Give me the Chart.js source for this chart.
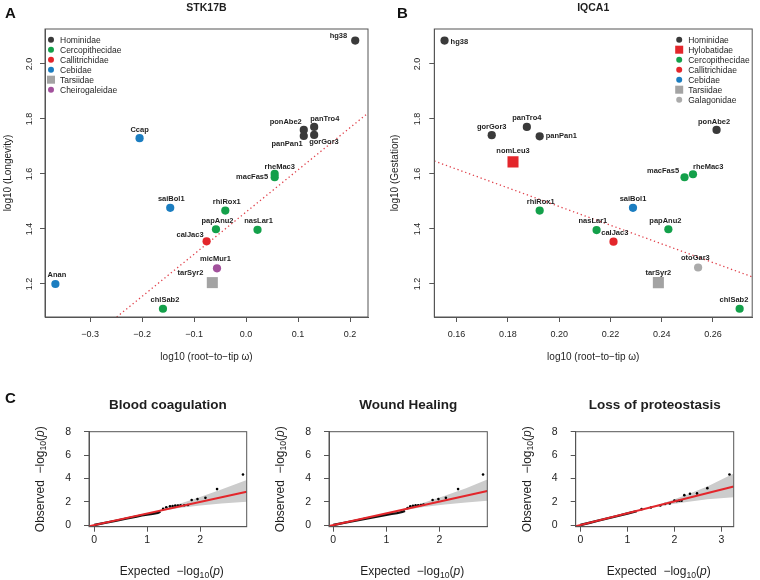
<!DOCTYPE html>
<html>
<head>
<meta charset="utf-8">
<script src="https://cdn.jsdelivr.net/npm/chart.js@4.4.0/dist/chart.umd.min.js"></script>
<style>
  html, body { margin: 0; padding: 0; background: #fff; }
  #fig { position: relative; width: 760px; height: 580px; overflow: hidden; }
  #fig canvas { position: absolute; }
  .tag { position: absolute; font: bold 15px "Liberation Sans", Arial, sans-serif; color: #111; line-height: 15px; }
</style>
</head>
<body>
<div id="fig">
  <canvas id="cA" width="380" height="380" style="left:0;top:0"></canvas>
  <canvas id="cB" width="380" height="380" style="left:380px;top:0"></canvas>
  <canvas id="cC1" width="255" height="200" style="left:0;top:380px"></canvas>
  <canvas id="cC2" width="255" height="200" style="left:250px;top:380px"></canvas>
  <canvas id="cC3" width="255" height="200" style="left:505px;top:380px"></canvas>
  <div class="tag" style="left:5px;top:5px">A</div>
  <div class="tag" style="left:397px;top:5px">B</div>
  <div class="tag" style="left:5px;top:390px">C</div>
</div>
<script>
(function() {
  'use strict';

  // ---- panel A: STK17B ----
  var familiesA = ['Hominidae', 'Cercopithecidae', 'Callitrichidae', 'Cebidae', 'Tarsiidae', 'Cheirogaleidae'];
  var speciesA = ['hg38', 'ponAbe2', 'panPan1', 'panTro4', 'gorGor3', 'Ccap', 'rheMac3', 'macFas5', 'saiBol1',
                  'rhiRox1', 'papAnu2', 'nasLar1', 'calJac3', 'micMur1', 'tarSyr2', 'Anan', 'chlSab2'];
  var familyOfA = ['Hominidae', 'Hominidae', 'Hominidae', 'Hominidae', 'Hominidae', 'Cebidae', 'Cercopithecidae',
                   'Cercopithecidae', 'Cebidae', 'Cercopithecidae', 'Cercopithecidae', 'Cercopithecidae',
                   'Callitrichidae', 'Cheirogaleidae', 'Tarsiidae', 'Cebidae', 'Cercopithecidae'];
  var omegaA = [0.210, 0.111, 0.111, 0.131, 0.131, -0.205, 0.055, 0.055, -0.146, -0.040, -0.058, 0.022,
                -0.076, -0.056, -0.065, -0.367, -0.160];
  var longevityA = [2.085, 1.760, 1.738, 1.771, 1.742, 1.730, 1.600, 1.588, 1.477, 1.467, 1.399, 1.397,
                    1.355, 1.257, 1.205, 1.200, 1.110];
  var trendAx = [-0.249, 0.235];
  var trendAy = [1.080, 1.822];
  var xTicksA = [-0.3, -0.2, -0.1, 0.0, 0.1, 0.2];
  var xTickLabelsA = ['\u22120.3', '\u22120.2', '\u22120.1', '0.0', '0.1', '0.2'];

  // ---- panel B: IQCA1 ----
  var familiesB = ['Hominidae', 'Hylobatidae', 'Cercopithecidae', 'Callitrichidae', 'Cebidae', 'Tarsiidae', 'Galagonidae'];
  var speciesB = ['hg38', 'gorGor3', 'panTro4', 'panPan1', 'ponAbe2', 'nomLeu3', 'macFas5', 'rheMac3', 'rhiRox1',
                  'saiBol1', 'nasLar1', 'papAnu2', 'calJac3', 'otoGar3', 'tarSyr2', 'chlSab2'];
  var familyOfB = ['Hominidae', 'Hominidae', 'Hominidae', 'Hominidae', 'Hominidae', 'Hylobatidae', 'Cercopithecidae',
                   'Cercopithecidae', 'Cercopithecidae', 'Cebidae', 'Cercopithecidae', 'Cercopithecidae',
                   'Callitrichidae', 'Galagonidae', 'Tarsiidae', 'Cercopithecidae'];
  var omegaB = [0.1553, 0.1737, 0.1874, 0.1924, 0.2614, 0.1820, 0.2489, 0.2522, 0.1924, 0.2288, 0.2146, 0.2426,
                0.2212, 0.2542, 0.2387, 0.2704];
  var gestationB = [2.085, 1.741, 1.771, 1.737, 1.760, 1.644, 1.588, 1.599, 1.467, 1.477, 1.396, 1.399,
                    1.354, 1.260, 1.205, 1.110];
  var trendBx = [0.1513, 0.2753];
  var trendBy = [1.647, 1.226];
  var xTicksB = [0.16, 0.18, 0.20, 0.22, 0.24, 0.26];
  var xTickLabelsB = ['0.16', '0.18', '0.20', '0.22', '0.24', '0.26'];

  var yTicksAB = [1.2, 1.4, 1.6, 1.8, 2.0];
  var yTickLabelsAB = ['1.2', '1.4', '1.6', '1.8', '2.0'];

  // ---- panel C: QQ plots (expected vs observed -log10 p) ----
  var qqTitles = ['Blood coagulation', 'Wound Healing', 'Loss of proteostasis'];
  var denseX1 = [0.0, 0.2, 0.4, 0.6, 0.8, 0.9, 1.0, 1.1, 1.2, 1.25];
  var denseY1 = [0.0, 0.18, 0.36, 0.55, 0.73, 0.82, 0.90, 0.96, 1.05, 1.15];
  var tailX1 = [1.30, 1.36, 1.43, 1.48, 1.53, 1.58, 1.63, 1.70, 1.77, 1.84, 1.95, 2.10, 2.32, 2.81];
  var tailY1 = [1.38, 1.52, 1.60, 1.63, 1.66, 1.67, 1.68, 1.70, 1.72, 2.14, 2.22, 2.33, 3.08, 4.33];
  var fitX1 = [-0.10, 2.88];
  var fitY1 = [-0.10, 2.85];
  var bandX1 = [1.20, 1.60, 2.00, 2.40, 2.88];
  var bandHi1 = [1.25, 1.80, 2.40, 3.05, 3.85];
  var bandLo1 = [1.15, 1.45, 1.67, 1.84, 2.00];

  var denseX2 = [0.0, 0.2, 0.4, 0.6, 0.8, 0.9, 1.0, 1.1, 1.2, 1.3, 1.35];
  var denseY2 = [0.0, 0.18, 0.36, 0.54, 0.70, 0.79, 0.88, 0.95, 1.02, 1.12, 1.22];
  var tailX2 = [1.40, 1.45, 1.50, 1.55, 1.60, 1.65, 1.70, 1.87, 1.98, 2.12, 2.35, 2.82];
  var tailY2 = [1.45, 1.60, 1.65, 1.68, 1.70, 1.72, 1.75, 2.14, 2.22, 2.33, 3.08, 4.33];
  var fitX2 = [-0.08, 2.90];
  var fitY2 = [-0.09, 2.92];
  var bandX2 = [1.30, 1.70, 2.10, 2.50, 2.90];
  var bandHi2 = [1.38, 1.90, 2.50, 3.15, 3.90];
  var bandLo2 = [1.25, 1.55, 1.75, 1.93, 2.08];

  var denseX3 = [0.0, 0.2, 0.4, 0.6, 0.8, 1.0, 1.2];
  var denseY3 = [0.0, 0.19, 0.39, 0.59, 0.79, 0.99, 1.19];
  var tailX3 = [1.30, 1.50, 1.70, 1.80, 1.90, 2.00, 2.05, 2.10, 2.15, 2.21, 2.33, 2.48, 2.70, 3.17];
  var tailY3 = [1.36, 1.50, 1.68, 1.80, 1.85, 2.10, 2.05, 2.08, 2.08, 2.56, 2.68, 2.71, 3.16, 4.33];
  var fitX3 = [-0.10, 3.26];
  var fitY3 = [-0.10, 3.30];
  var bandX3 = [1.50, 1.90, 2.30, 2.70, 3.26];
  var bandHi3 = [1.55, 2.05, 2.65, 3.30, 4.42];
  var bandLo3 = [1.45, 1.75, 2.00, 2.20, 2.37];

  var qqYTicks = [0, 2, 4, 6, 8];
  var qqXTicks12 = [0, 1, 2];
  var qqXTicks3 = [0, 1, 2, 3];

  // ---- styles ----
  var FONT = '"Liberation Sans", Arial, Helvetica, sans-serif';
  var INK = '#1e1e1e';
  var AXIS = '#555';

  var familyStyle = {
    Hominidae:       { color: '#3a3a3a', shape: 'circle' },
    Hylobatidae:     { color: '#e3262b', shape: 'rect' },
    Cercopithecidae: { color: '#13a04a', shape: 'circle' },
    Callitrichidae:  { color: '#e3262b', shape: 'circle' },
    Cebidae:         { color: '#1b7dc0', shape: 'circle' },
    Tarsiidae:       { color: '#a3a3a3', shape: 'rect' },
    Cheirogaleidae:  { color: '#a2519c', shape: 'circle' },
    Galagonidae:     { color: '#ababab', shape: 'circle' }
  };

  // label placement: [textAlign, dx, dy] relative to the point
  var labelPlaceA = {
    hg38: ['right', -8, -5], ponAbe2: ['right', -2, -8], panTro4: ['left', -4, -8], panPan1: ['right', -1, 8],
    gorGor3: ['left', -5, 7], Ccap: ['center', 0, -8.5], rheMac3: ['center', 5, -7.5], macFas5: ['right', -6.5, 0],
    saiBol1: ['center', 1, -9], rhiRox1: ['center', 1.5, -8.5], papAnu2: ['center', 1.5, -8.5],
    nasLar1: ['center', 1, -8.5], calJac3: ['right', -3, -6.5], micMur1: ['center', -1.5, -9],
    tarSyr2: ['right', -9, -9.5], Anan: ['center', 1.5, -8.7], chlSab2: ['center', 2, -8.7]
  };
  var labelPlaceB = {
    hg38: ['left', 6, 1], gorGor3: ['center', 0, -8.6], panTro4: ['center', 0, -9], panPan1: ['left', 6, 0],
    ponAbe2: ['center', -2.5, -8.3], nomLeu3: ['center', 0, -10.5], macFas5: ['right', -5.4, -6.6],
    rheMac3: ['left', 0, -7.6], rhiRox1: ['center', 1, -8.4], saiBol1: ['center', 0, -9],
    nasLar1: ['center', -3.7, -9], papAnu2: ['center', -3, -8.3], calJac3: ['center', 1.3, -9],
    otoGar3: ['center', -2.7, -9.4], tarSyr2: ['center', 0, -10], chlSab2: ['center', -5.7, -8.7]
  };

  function richText(ctx, segs, x, y, size, rot) {
    function fontOf(s) {
      if (s[1] === 'sub') return (size * 0.72) + 'px ' + FONT;
      if (s[1] === 'it') return 'italic ' + size + 'px ' + FONT;
      return size + 'px ' + FONT;
    }
    var widths = segs.map(function(s) { ctx.font = fontOf(s); return ctx.measureText(s[0]).width; });
    var total = widths.reduce(function(a, b) { return a + b; }, 0);
    ctx.save();
    ctx.translate(x, y);
    if (rot) ctx.rotate(rot);
    ctx.textAlign = 'left';
    ctx.textBaseline = 'middle';
    var cx = -total / 2;
    segs.forEach(function(s, i) {
      ctx.font = fontOf(s);
      ctx.fillText(s[0], cx, s[1] === 'sub' ? size * 0.3 : 0);
      cx += widths[i];
    });
    ctx.restore();
  }

  var decor = {
    id: 'decor',
    afterDraw: function(chart, args, o) {
      var ctx = chart.ctx, a = chart.chartArea;
      ctx.save();
      ctx.strokeStyle = AXIS;
      ctx.lineWidth = 1;
      ctx.strokeRect(a.left, a.top, a.right - a.left, a.bottom - a.top);
      ctx.fillStyle = INK;
      var cx = (a.left + a.right) / 2;

      if (o.title) {
        ctx.font = 'bold ' + o.title.size + 'px ' + FONT;
        ctx.textAlign = 'center';
        ctx.textBaseline = 'middle';
        ctx.fillText(o.title.text, cx, a.top + o.title.dy);
      }
      if (o.xTitle) richText(ctx, o.xTitle.segs, cx + (o.xTitle.dx || 0), a.bottom + o.xTitle.dy, o.xTitle.size, 0);
      if (o.yTitle) richText(ctx, o.yTitle.segs, a.left + o.yTitle.dx, (a.top + a.bottom) / 2, o.yTitle.size, -Math.PI / 2);

      if (o.yTickLabels) {
        var ys = chart.scales.y;
        ctx.font = o.tickSize + 'px ' + FONT;
        ctx.textAlign = 'center';
        ctx.textBaseline = 'middle';
        ys.ticks.forEach(function(t, i) {
          ctx.save();
          ctx.translate(a.left + o.yTickDx, ys.getPixelForValue(t.value));
          ctx.rotate(-Math.PI / 2);
          ctx.fillText(o.yTickLabels[i], 0, 0);
          ctx.restore();
        });
      }

      if (o.legend) {
        var lg = o.legend;
        var mx = lg.anchor === 'left' ? a.left + lg.dx : a.right + lg.dx;
        var row = 0;
        chart.data.datasets.forEach(function(ds) {
          if (!ds.family) return;
          var st = familyStyle[ds.family];
          var yy = a.top + lg.dy + row * lg.step;
          ctx.fillStyle = st.color;
          if (st.shape === 'rect') {
            ctx.fillRect(mx - 4, yy - 4, 8, 8);
          } else {
            ctx.beginPath();
            ctx.arc(mx, yy, 3, 0, Math.PI * 2);
            ctx.fill();
          }
          ctx.fillStyle = INK;
          ctx.font = lg.size + 'px ' + FONT;
          ctx.textAlign = 'left';
          ctx.textBaseline = 'middle';
          ctx.fillText(ds.family, mx + 9, yy + 0.5);
          row++;
        });
      }

      if (o.place) {
        ctx.font = 'bold 7.5px ' + FONT;
        ctx.textBaseline = 'middle';
        ctx.fillStyle = INK;
        chart.data.datasets.forEach(function(ds, di) {
          if (!ds.names) return;
          var meta = chart.getDatasetMeta(di);
          meta.data.forEach(function(pt, j) {
            var p = o.place[ds.names[j]];
            ctx.textAlign = p[0];
            ctx.fillText(ds.names[j], pt.x + p[1], pt.y + p[2]);
          });
        });
      }
      ctx.restore();
    }
  };

  function pts(xs, ys) {
    return xs.map(function(x, i) { return { x: x, y: ys[i] }; });
  }

  function familyDatasets(families, species, fam, xs, ys) {
    return families.map(function(f) {
      var idx = [];
      species.forEach(function(s, i) { if (fam[i] === f) idx.push(i); });
      var st = familyStyle[f];
      return {
        family: f,
        names: idx.map(function(i) { return species[i]; }),
        data: idx.map(function(i) { return { x: xs[i], y: ys[i] }; }),
        showLine: false,
        pointStyle: st.shape,
        pointRadius: st.shape === 'rect' ? 7.8 : 4.1,
        backgroundColor: st.color,
        borderColor: st.color,
        borderWidth: 0,
        order: 1
      };
    });
  }

  function axis(min, max, ticks, labels, size, pad, fit, extra) {
    var ax = {
      type: 'linear', min: min, max: max,
      afterBuildTicks: function(s) { s.ticks = ticks.map(function(v) { return { value: v }; }); },
      afterFit: fit,
      ticks: {
        display: !!labels,
        autoSkip: false, maxRotation: 0, minRotation: 0, padding: pad,
        color: INK, font: { family: FONT, size: size },
        callback: function(v, i) { return labels ? labels[i] : ''; }
      },
      grid: { drawOnChartArea: false, drawTicks: true, tickLength: 5, color: AXIS },
      border: { color: AXIS }
    };
    return Object.assign(ax, extra || {});
  }

  function scatterPanel(id, o) {
    var W = 380, H = 380;
    var datasets = familyDatasets(o.families, o.species, o.fam, o.xs, o.ys);
    datasets.push({
      data: pts(o.trendX, o.trendY), showLine: true, pointRadius: 0,
      borderColor: '#e0404a', borderWidth: 1.3, borderDash: [1.3, 2.8], order: 5
    });
    new Chart(document.getElementById(id).getContext('2d'), {
      type: 'scatter',
      data: { datasets: datasets },
      options: {
        responsive: false, animation: false, devicePixelRatio: 1, events: [],
        layout: { padding: { left: 0, top: o.area[1], right: W - o.area[2], bottom: 0 } },
        scales: {
          x: axis(o.xMin, o.xMax, o.xTicks, o.xLabels, 9, 7, function(s) { s.height = H - o.area[3]; }),
          y: axis(1.08, 2.127, yTicksAB, null, 9, 0, function(s) { s.width = o.area[0]; })
        },
        plugins: {
          legend: { display: false }, tooltip: { enabled: false },
          decor: {
            title: { text: o.title, size: 10.5, dy: -21 },
            xTitle: { segs: [['log10 (root\u2212to\u2212tip \u03c9)', '']], dy: 40, size: 10 },
            yTitle: { segs: [[o.yTitle, '']], dx: o.yTitleDx, size: 10 },
            yTickLabels: yTickLabelsAB, yTickDx: o.yTickDx, tickSize: 9,
            legend: o.legend,
            place: o.place
          }
        }
      },
      plugins: [decor]
    });
  }

  function qqPanel(id, o) {
    var W = 255, H = 200;
    var datasets = [
      { data: pts(o.fitX, o.fitY), showLine: true, pointRadius: 0, borderColor: '#e3262b', borderWidth: 2, order: 0 },
      { data: pts(o.tailX, o.tailY), showLine: false, pointRadius: 1.3, pointBackgroundColor: '#000', pointBorderWidth: 0, order: 1 },
      { data: pts(o.denseX, o.denseY), showLine: true, pointRadius: 0, borderColor: '#111', borderWidth: 2.4, order: 2 },
      { data: pts(o.bandX, o.bandHi), showLine: true, pointRadius: 0, borderWidth: 0, borderColor: 'rgba(0,0,0,0)',
        fill: '+1', backgroundColor: '#cccccc', order: 3 },
      { data: pts(o.bandX, o.bandLo), showLine: true, pointRadius: 0, borderWidth: 0, borderColor: 'rgba(0,0,0,0)', order: 4 }
    ];
    new Chart(document.getElementById(id).getContext('2d'), {
      type: 'line',
      data: { datasets: datasets },
      options: {
        responsive: false, animation: false, devicePixelRatio: 1, events: [],
        layout: { padding: { left: 0, top: o.area[1], right: W - o.area[2], bottom: 0 } },
        scales: {
          x: axis(o.xMin, o.xMax, o.xTicks, o.xTicks.map(String), 10.5, 2, function(s) { s.height = H - o.area[3]; }),
          y: axis(-0.145, 8.0, qqYTicks, qqYTicks.map(String), 10.5, 13, function(s) { s.width = o.area[0]; })
        },
        plugins: {
          legend: { display: false }, tooltip: { enabled: false },
          decor: {
            title: { text: o.title, size: 13.5, dy: -26.5 },
            xTitle: { segs: [['Expected  \u2212log', ''], ['10', 'sub'], ['(', ''], ['p', 'it'], [')', '']], dy: 45, dx: 4, size: 12 },
            yTitle: { segs: [['Observed  \u2212log', ''], ['10', 'sub'], ['(', ''], ['p', 'it'], [')', '']], dx: -48.5, size: 12 }
          }
        }
      },
      plugins: [decor]
    });
  }

  scatterPanel('cA', {
    families: familiesA, species: speciesA, fam: familyOfA, xs: omegaA, ys: longevityA,
    trendX: trendAx, trendY: trendAy, xMin: -0.387, xMax: 0.2346, xTicks: xTicksA, xLabels: xTickLabelsA,
    area: [45, 29, 368, 317], title: 'STK17B', yTitle: 'log10 (Longevity)', yTitleDx: -37, yTickDx: -15,
    legend: { anchor: 'left', dx: 6, dy: 10.7, step: 10, size: 8.5 }, place: labelPlaceA
  });
  scatterPanel('cB', {
    families: familiesB, species: speciesB, fam: familyOfB, xs: omegaB, ys: gestationB,
    trendX: trendBx, trendY: trendBy, xMin: 0.1513, xMax: 0.2753, xTicks: xTicksB, xLabels: xTickLabelsB,
    area: [54.3, 29, 377, 317], title: 'IQCA1', yTitle: 'log10 (Gestation)', yTitleDx: -39, yTickDx: -17,
    legend: { anchor: 'right', dx: -73, dy: 10.7, step: 10, size: 8.5 }, place: labelPlaceB
  });

  qqPanel('cC1', {
    title: qqTitles[0], area: [89, 51.7, 246.7, 146.7], xMin: -0.1, xMax: 2.88, xTicks: qqXTicks12,
    denseX: denseX1, denseY: denseY1, tailX: tailX1, tailY: tailY1, fitX: fitX1, fitY: fitY1,
    bandX: bandX1, bandHi: bandHi1, bandLo: bandLo1
  });
  qqPanel('cC2', {
    title: qqTitles[1], area: [79, 51.7, 237.3, 146.7], xMin: -0.08, xMax: 2.9, xTicks: qqXTicks12,
    denseX: denseX2, denseY: denseY2, tailX: tailX2, tailY: tailY2, fitX: fitX2, fitY: fitY2,
    bandX: bandX2, bandHi: bandHi2, bandLo: bandLo2
  });
  qqPanel('cC3', {
    title: qqTitles[2], area: [70.7, 51.7, 228.7, 146.7], xMin: -0.1, xMax: 3.26, xTicks: qqXTicks3,
    denseX: denseX3, denseY: denseY3, tailX: tailX3, tailY: tailY3, fitX: fitX3, fitY: fitY3,
    bandX: bandX3, bandHi: bandHi3, bandLo: bandLo3
  });
})();
</script>
</body>
</html>
